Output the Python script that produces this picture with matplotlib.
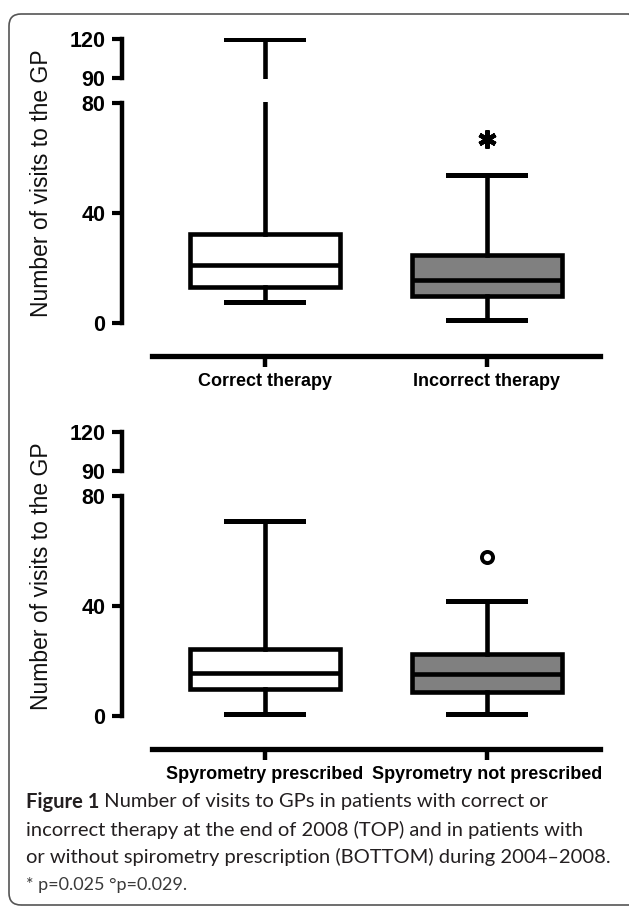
import matplotlib
matplotlib.use("Agg")
import matplotlib.pyplot as plt
from matplotlib.patches import FancyBboxPatch
from matplotlib.transforms import IdentityTransform

# data (visits to the GP)
top_groups = ["Correct therapy", "Incorrect therapy"]
top_whislo = [7.5, 1.0]
top_q1 = [13.0, 9.7]
top_med = [21.0, 15.7]
top_q3 = [32.5, 24.8]
top_whishi = [120.0, 54.0]
top_mark_y = [67.0]          # asterisk over second group

bot_groups = ["Spyrometry prescribed", "Spyrometry not prescribed"]
bot_whislo = [0.7, 0.7]
bot_q1 = [10.0, 8.6]
bot_med = [15.7, 15.4]
bot_q3 = [24.5, 22.7]
bot_whishi = [71.0, 42.0]
bot_mark_y = [57.7]          # circle over second group

box_colors = ["white", "#808080"]
positions = [1, 2]

W, H = 629, 908
fig = plt.figure(figsize=(W / 100, H / 100), dpi=100)
plt.rcParams['font.family'] = ['Liberation Sans', 'DejaVu Sans']


def fx(x):
    return x / W


def fy(y):
    return 1 - y / H


def make_stats(labels, lo, q1, med, q3, hi):
    return [dict(label=l, whislo=a, q1=b, med=c, q3=d, whishi=e, fliers=[])
            for l, a, b, c, d, e in zip(labels, lo, q1, med, q3, hi)]


def draw_panel(y0, labels, stats, mark_y, mark_style):
    # y0: pixel row of value 0 on the lower segment
    scale_lo = 2.75   # px per unit, 0..80
    scale_hi = 1.3    # px per unit, 90..120
    left, right = 122, 620
    xlim = (0.356, 2.6)

    lo_bot = y0 + 2 * scale_lo
    lo_top = y0 - 80.5 * scale_lo
    y90 = y0 - 245
    hi_bot = y90 + 0.5 * scale_hi
    hi_top = y90 - 31 * scale_hi

    ax_lo = fig.add_axes([fx(left), fy(lo_bot), fx(right - left), (lo_bot - lo_top) / H])
    ax_hi = fig.add_axes([fx(left), fy(hi_bot), fx(right - left), (hi_bot - hi_top) / H])

    for ax in (ax_lo, ax_hi):
        ax.bxp(stats, positions=positions, widths=0.676, capwidths=0.347,
               patch_artist=True, showfliers=False,
               boxprops=dict(linewidth=3.3, edgecolor='black'),
               medianprops=dict(linewidth=3.3, color='black'),
               whiskerprops=dict(linewidth=3.3, color='black'),
               capprops=dict(linewidth=3.6, color='black'))
        for patch, c in zip(ax.patches, box_colors):
            patch.set_facecolor(c)
        ax.set_xlim(*xlim)
        ax.set_facecolor('none')
        for s in ('top', 'right'):
            ax.spines[s].set_visible(False)
        ax.spines['left'].set_linewidth(3.2)
        ax.tick_params(axis='y', direction='out', length=7, width=3, pad=5,
                       labelsize=15.5)

    ax_lo.set_ylim(-2, 80.5)
    ax_lo.spines['left'].set_bounds(0, 80)
    ax_lo.set_yticks([0, 40, 80])
    ax_lo.spines['bottom'].set_position(('outward', 19.8))
    ax_lo.spines['bottom'].set_bounds(0.49, 2.51)
    ax_lo.spines['bottom'].set_linewidth(3.8)
    ax_lo.set_xticks(positions)
    ax_lo.set_xticklabels(labels, fontsize=13, fontweight='bold')
    ax_lo.tick_params(axis='x', direction='out', length=8, width=3.2, pad=4)

    ax_hi.set_ylim(89.5, 121)
    ax_hi.spines['left'].set_bounds(90, 120)
    ax_hi.set_yticks([90, 120])
    ax_hi.spines['bottom'].set_visible(False)
    ax_hi.set_xticks([])

    for ax in (ax_lo, ax_hi):
        for t in ax.get_yticklabels():
            t.set_fontweight('bold')

    ax_lo.plot([positions[1]] * len(mark_y), mark_y, **mark_style)

    fig.text(fx(42), fy(y0 - 140), "Number of visits to the GP", rotation=90,
             ha='center', va='center', fontsize=16.5, color='#111111')


draw_panel(323, top_groups,
           make_stats(top_groups, top_whislo, top_q1, top_med, top_q3, top_whishi),
           top_mark_y,
           dict(marker=(6, 2, 0), markersize=13, markeredgewidth=3.2,
                color='black', linestyle='none'))
draw_panel(716, bot_groups,
           make_stats(bot_groups, bot_whislo, bot_q1, bot_med, bot_q3, bot_whishi),
           bot_mark_y,
           dict(marker='o', markersize=8, markeredgewidth=2.8,
                markerfacecolor='white', markeredgecolor='black',
                linestyle='none'))

# caption
cap_font = ['Lato', 'DejaVu Sans']
cap_size = 14.5
cap_col = '#231f20'
renderer = fig.canvas.get_renderer()
t = fig.text(fx(26), fy(802), "Figure 1", fontsize=cap_size, fontweight='bold',
             family=cap_font, color=cap_col, va='center')
bb = t.get_window_extent(renderer)
fig.text(bb.x1 / W, fy(802), " Number of visits to GPs in patients with correct or",
         fontsize=cap_size, family=cap_font, color=cap_col, va='center')
fig.text(fx(26), fy(830), "incorrect therapy at the end of 2008 (TOP) and in patients with",
         fontsize=cap_size, family=cap_font, color=cap_col, va='center')
fig.text(fx(26), fy(857), "or without spirometry prescription (BOTTOM) during 2004\u20132008.",
         fontsize=cap_size, family=cap_font, color=cap_col, va='center')
fig.text(fx(26), fy(885), "* p=0.025 \u00b0p=0.029.",
         fontsize=13, family=cap_font, color='#3a3a3a', va='center')

# rounded frame around the figure (right edge runs off the image)
frame = FancyBboxPatch((9, 3), 632, 891, boxstyle="round,pad=0,rounding_size=12",
                       transform=IdentityTransform(), facecolor='none',
                       edgecolor='#555555', linewidth=1.2)
fig.add_artist(frame)

fig.savefig("out.png", dpi=100)
